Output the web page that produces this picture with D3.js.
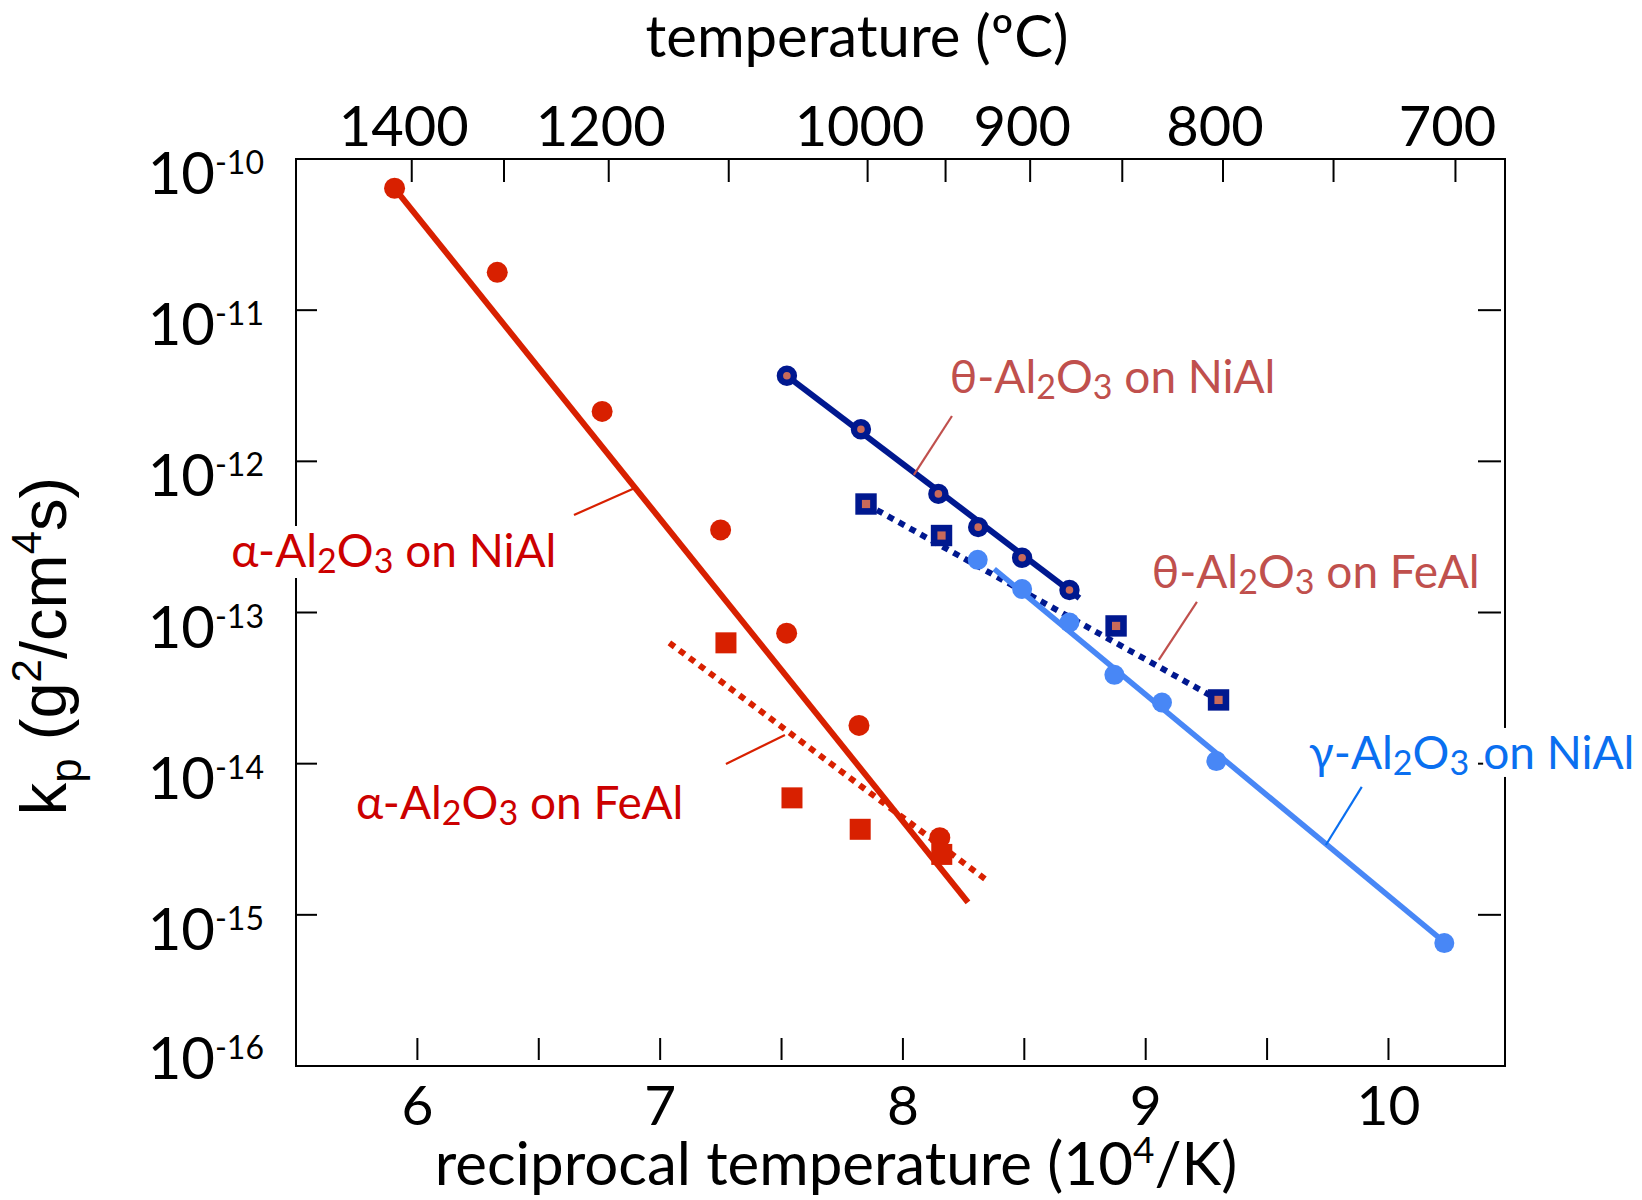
<!DOCTYPE html>
<html>
<head>
<meta charset="utf-8">
<script src="https://cdn.jsdelivr.net/npm/d3@7"></script>
<style>
  body { margin: 0; background: #fff; }
  #chart { width: 1642px; height: 1200px; }
  text { font-family: Lato, "Noto Sans", sans-serif; }
</style>
</head>
<body>
<div id="chart"></div>
<script>
// ---- data ----
// x = reciprocal temperature (10^4/K), kp in g^2/cm^4 s
const alphaNiAlX = [5.906, 6.329, 6.761, 7.249, 7.521, 7.819, 8.152];
const alphaNiAlKp = [6.4e-11, 1.78e-11, 2.14e-12, 3.52e-13, 7.3e-14, 1.79e-14, 3.24e-15];
const alphaNiAlFit = [[5.906, 6.4e-11], [8.268, 1.21e-15]];

const alphaFeAlX = [7.271, 7.543, 7.824, 8.160];
const alphaFeAlKp = [6.3e-14, 5.94e-15, 3.68e-15, 2.51e-15];
const alphaFeAlFit = [[7.038, 6.3e-14], [8.342, 1.71e-15]];

const thetaNiAlX = [7.522, 7.827, 8.146, 8.310, 8.491, 8.686];
const thetaNiAlKp = [3.68e-12, 1.63e-12, 6.09e-13, 3.67e-13, 2.30e-13, 1.41e-13];
const thetaNiAlFit = [[7.522, 3.68e-12], [8.727, 1.245e-13]];

const thetaFeAlX = [7.848, 8.159, 8.878, 9.300];
const thetaFeAlKp = [5.22e-13, 3.23e-13, 8.15e-14, 2.64e-14];
const thetaFeAlFit = [[7.848, 5.22e-13], [9.300, 2.64e-14]];

const gammaNiAlX = [8.308, 8.491, 8.686, 8.871, 9.067, 9.291, 10.230];
const gammaNiAlKp = [2.23e-13, 1.43e-13, 8.59e-14, 3.87e-14, 2.54e-14, 1.04e-14, 6.5e-16];
const gammaNiAlFit = [[8.376, 1.94e-13], [10.25, 6.2e-16]];

// axes
const bottomTicks = [6, 6.5, 7, 7.5, 8, 8.5, 9, 9.5, 10];
const bottomLabels = [6, 7, 8, 9, 10];
const topTicks = [1400, 1300, 1200, 1100, 1000, 950, 900, 850, 800, 750, 700];
const topLabels = [1400, 1200, 1000, 900, 800, 700];
const yExponents = [-10, -11, -12, -13, -14, -15, -16];

// annotations: label parts, text anchor (x, log kp), leader from / to
const notes = [
  {parts: ["α-Al", "2", "O", "3", " on NiAl"], at: [5.233, -12.699], from: [6.645, -12.355], to: [6.896, -12.176], color: "#cc0000", lead: "#d82000"},
  {parts: ["α-Al", "2", "O", "3", " on FeAl"], at: [5.747, -14.366], from: [7.271, -14.002], to: [7.514, -13.810], color: "#cc0000", lead: "#d82000"},
  {parts: ["θ-Al", "2", "O", "3", " on NiAl"], at: [8.193, -11.548], from: [8.202, -11.700], to: [8.045, -12.090], color: "#c0504d", lead: "#c0504d"},
  {parts: ["θ-Al", "2", "O", "3", " on FeAl"], at: [9.025, -12.838], from: [9.211, -12.930], to: [9.054, -13.314], color: "#c0504d", lead: "#c0504d"},
  {parts: ["γ-Al", "2", "O", "3"], at: [9.672, -14.035], from: [9.890, -14.154], to: [9.742, -14.538], color: "#0a6ff0", lead: "#0a6ff0", tail: "on NiAl"}
];

/*
SVG
*/
const width = 1642, height = 1200;
const frame = {left: 296, right: 1505, top: 159, bottom: 1066};

const svg = d3.select("#chart").append("svg")
    .attr("width", width)
    .attr("height", height);

const xScale = d3.scaleLinear()
    .domain([5.5, 10.48])
    .range([frame.left, frame.right]);

const yScale = d3.scaleLog()
    .domain([1e-16, 1e-10])
    .range([frame.bottom, frame.top]);

/*
FRAME + TICKS
*/
svg.append("rect")
    .attr("x", frame.left).attr("y", frame.top)
    .attr("width", frame.right - frame.left)
    .attr("height", frame.bottom - frame.top)
    .attr("fill", "none")
    .attr("stroke", "#000")
    .attr("stroke-width", 2);

const tickG = svg.append("g").attr("stroke", "#000").attr("stroke-width", 2);

bottomTicks.forEach(function(t) {
    tickG.append("line")
        .attr("x1", xScale(t)).attr("x2", xScale(t))
        .attr("y1", frame.bottom - 6).attr("y2", frame.bottom - 28);
});

topTicks.forEach(function(T) {
    const x = xScale(1e4 / (T + 273.15));
    tickG.append("line")
        .attr("x1", x).attr("x2", x)
        .attr("y1", frame.top).attr("y2", frame.top + 23);
});

yExponents.slice(1, -1).forEach(function(e) {
    const y = yScale(Math.pow(10, e));
    tickG.append("line")
        .attr("x1", frame.left).attr("x2", frame.left + 21)
        .attr("y1", y).attr("y2", y);
    tickG.append("line")
        .attr("x1", frame.right - 4).attr("x2", frame.right - 27)
        .attr("y1", y).attr("y2", y);
});

/*
TICK LABELS
*/
svg.selectAll(".xlab")
    .data(bottomLabels)
    .enter()
    .append("text")
        .attr("class", "xlab")
        .attr("x", function(d) { return xScale(d); })
        .attr("y", 1125)
        .attr("text-anchor", "middle")
        .attr("font-size", 55)
        .text(function(d) { return d; });

svg.selectAll(".tlab")
    .data(topLabels)
    .enter()
    .append("text")
        .attr("class", "tlab")
        .attr("x", function(d) { return xScale(1e4 / (d + 273.15)) - 8; })
        .attr("y", 146)
        .attr("text-anchor", "middle")
        .attr("font-size", 56)
        .text(function(d) { return d; });

const ylabs = svg.selectAll(".ylab")
    .data(yExponents)
    .enter()
    .append("text")
        .attr("class", "ylab")
        .attr("x", 264)
        .attr("y", function(d) {
            const y = yScale(Math.pow(10, d)) + 35;
            return Math.max(frame.top + 27, Math.min(frame.bottom + 13, y));
        })
        .attr("text-anchor", "end")
        .attr("font-size", 58);
ylabs.append("tspan").text("10");
ylabs.append("tspan")
    .attr("font-size", 32)
    .attr("dy", -20)
    .text(function(d) { return d; });

/*
AXIS TITLES
*/
svg.append("text")
    .attr("x", 857)
    .attr("y", 57)
    .attr("text-anchor", "middle")
    .attr("font-size", 58)
    .text("temperature (ºC)");

const xt = svg.append("text")
    .attr("x", 836)
    .attr("y", 1185)
    .attr("text-anchor", "middle")
    .attr("font-size", 60);
xt.append("tspan").text("reciprocal temperature (10");
xt.append("tspan").attr("font-size", 37).attr("dy", -22).text("4");
xt.append("tspan").attr("dy", 22).text("/K)");

const yt = svg.append("text")
    .attr("transform", "translate(66,646) rotate(-90)")
    .attr("text-anchor", "middle")
    .attr("font-size", 65)
    .style("font-family", "'Liberation Sans', Arial, sans-serif");
yt.append("tspan").text("k");
yt.append("tspan").attr("font-size", 44).attr("dy", 15).text("p");
yt.append("tspan").attr("dy", -15).text(" (g");
yt.append("tspan").attr("font-size", 42).attr("dy", -25).text("2");
yt.append("tspan").attr("dy", 25).text("/cm");
yt.append("tspan").attr("font-size", 42).attr("dy", -25).text("4");
yt.append("tspan").attr("dy", 25).text("s)");

/*
SERIES
*/
const line = d3.line()
    .x(function(d) { return xScale(d[0]); })
    .y(function(d) { return yScale(d[1]); });

const zip = function(xs, ys) { return xs.map(function(x, i) { return [x, ys[i]]; }); };

const red = "#d82000", navy = "#00188f", salmon = "#c96a5a", blue = "#4887f6";

// alpha on NiAl / FeAl
svg.append("path")
    .attr("d", line(alphaNiAlFit))
    .attr("fill", "none").attr("stroke", red).attr("stroke-width", 6);

svg.append("path")
    .attr("d", line(alphaFeAlFit))
    .attr("fill", "none").attr("stroke", red).attr("stroke-width", 6)
    .attr("stroke-dasharray", "6.5,6");

svg.selectAll(".aNi")
    .data(zip(alphaNiAlX, alphaNiAlKp))
    .enter()
    .append("circle")
        .attr("class", "aNi")
        .attr("cx", function(d) { return xScale(d[0]); })
        .attr("cy", function(d) { return yScale(d[1]); })
        .attr("r", 10.5)
        .attr("fill", red);

svg.selectAll(".aFe")
    .data(zip(alphaFeAlX, alphaFeAlKp))
    .enter()
    .append("rect")
        .attr("class", "aFe")
        .attr("x", function(d) { return xScale(d[0]) - 10.5; })
        .attr("y", function(d) { return yScale(d[1]) - 10.5; })
        .attr("width", 21).attr("height", 21)
        .attr("fill", red);

// theta on FeAl (dotted) under gamma
svg.append("path")
    .attr("d", line(thetaFeAlFit))
    .attr("fill", "none").attr("stroke", navy).attr("stroke-width", 6)
    .attr("stroke-dasharray", "6.5,6");

// gamma on NiAl
svg.append("path")
    .attr("d", line(gammaNiAlFit))
    .attr("fill", "none").attr("stroke", blue).attr("stroke-width", 5.5);

svg.selectAll(".gNi")
    .data(zip(gammaNiAlX, gammaNiAlKp))
    .enter()
    .append("circle")
        .attr("class", "gNi")
        .attr("cx", function(d) { return xScale(d[0]); })
        .attr("cy", function(d) { return yScale(d[1]); })
        .attr("r", 10)
        .attr("fill", blue);

// theta on NiAl
svg.append("path")
    .attr("d", line(thetaNiAlFit))
    .attr("fill", "none").attr("stroke", navy).attr("stroke-width", 6);

svg.selectAll(".tNi")
    .data(zip(thetaNiAlX, thetaNiAlKp))
    .enter()
    .append("circle")
        .attr("class", "tNi")
        .attr("cx", function(d) { return xScale(d[0]); })
        .attr("cy", function(d) { return yScale(d[1]); })
        .attr("r", 7)
        .attr("fill", salmon)
        .attr("stroke", navy)
        .attr("stroke-width", 6.4);

svg.selectAll(".tFe")
    .data(zip(thetaFeAlX, thetaFeAlKp))
    .enter()
    .append("rect")
        .attr("class", "tFe")
        .attr("x", function(d) { return xScale(d[0]) - 7.4; })
        .attr("y", function(d) { return yScale(d[1]) - 7.4; })
        .attr("width", 14.8).attr("height", 14.8)
        .attr("fill", salmon)
        .attr("stroke", navy)
        .attr("stroke-width", 6.6);

/*
ANNOTATIONS
*/
function addLabel(x, y, parts, color) {
    const g = svg.append("g");
    const bg = g.append("rect").attr("fill", "#fff");
    const t = g.append("text")
        .attr("x", x).attr("y", y)
        .attr("font-size", 46)
        .attr("fill", color);
    parts.forEach(function(p, i) {
        const sub = (p === "2" || p === "3");
        const ts = t.append("tspan").text(p);
        if (sub) ts.attr("font-size", 34).attr("dy", 6);
        else if (i > 0 && (parts[i - 1] === "2" || parts[i - 1] === "3")) ts.attr("dy", -6);
    });
    const b = t.node().getBBox();
    bg.attr("x", b.x).attr("y", b.y + 4).attr("width", b.width).attr("height", b.height - 6);
    return b;
}

notes.forEach(function(n) {
    svg.append("line")
        .attr("x1", xScale(n.from[0])).attr("y1", yScale(Math.pow(10, n.from[1])))
        .attr("x2", xScale(n.to[0])).attr("y2", yScale(Math.pow(10, n.to[1])))
        .attr("stroke", n.lead)
        .attr("stroke-width", 2.2);
    const x = xScale(n.at[0]), y = yScale(Math.pow(10, n.at[1]));
    const b = addLabel(x, y, n.parts, n.color);
    if (n.tail) addLabel(b.x + b.width + 14, y, [n.tail], n.color);
});
</script>
</body>
</html>
